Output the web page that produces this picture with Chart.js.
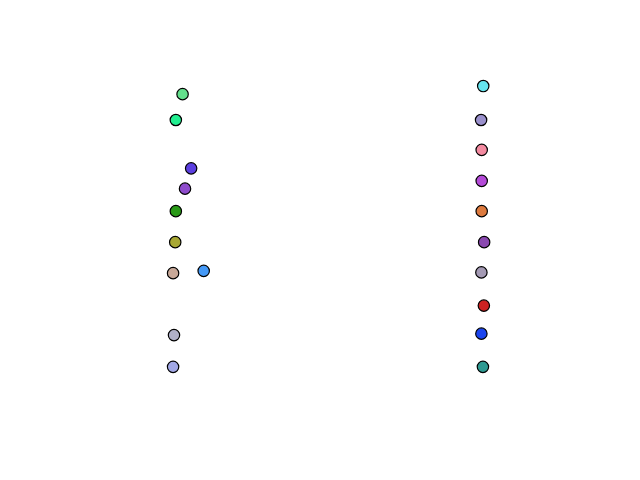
<!DOCTYPE html>
<html>
<head>
<meta charset="utf-8">
<script src="https://cdn.jsdelivr.net/npm/chart.js@4/dist/chart.umd.min.js"></script>
<style>
  html, body { margin: 0; padding: 0; background: #ffffff; }
  #c { display: block; }
</style>
</head>
<body>
<canvas id="c" width="640" height="480"></canvas>
<script>
// Group position (0 = left strip, 1 = right strip) with small horizontal jitter
const xValues = [0.025, 0.003, 0.053, 0.033, 0.003, 0.001, -0.006, 0.094, -0.003, -0.006,
                 1.007, 1.000, 1.002, 1.002, 1.002, 1.010, 1.001, 1.009, 1.001, 1.006];
const yValues = [9.02, 8.32, 7.01, 6.46, 5.85, 5.01, 4.17, 4.23, 2.49, 1.63,
                 9.24, 8.32, 7.51, 6.67, 5.85, 5.01, 4.19, 3.29, 2.53, 1.63];
const pointColors = ['#63e08c', '#22ee90', '#5b3fe0', '#8e4bcc', '#299a17', '#a8a833', '#c8a898', '#4499f7', '#b0b0c8', '#a2a8e6',
                     '#66e6f0', '#9a90cc', '#f38aa0', '#b44ad8', '#dd7a3e', '#8a48b0', '#a49ab4', '#cc2222', '#1a44ee', '#2e9a92'];

const points = xValues.map((x, i) => ({ x: x, y: yValues[i] }));

new Chart(document.getElementById('c'), {
  type: 'scatter',
  data: {
    datasets: [{
      data: points,
      backgroundColor: pointColors,
      borderColor: '#000000',
      borderWidth: 1.2,
      pointRadius: 5.7,
      pointHoverRadius: 5.7,
      clip: false
    }]
  },
  options: {
    responsive: false,
    devicePixelRatio: 1,
    animation: false,
    events: [],
    layout: { padding: { left: 80, right: 64, top: 58, bottom: 53 } },
    plugins: { legend: { display: false }, tooltip: { enabled: false } },
    scales: {
      x: { type: 'linear', min: -0.31, max: 1.31, display: false },
      y: { type: 'linear', min: 0, max: 10, display: false }
    }
  }
});
</script>
</body>
</html>
